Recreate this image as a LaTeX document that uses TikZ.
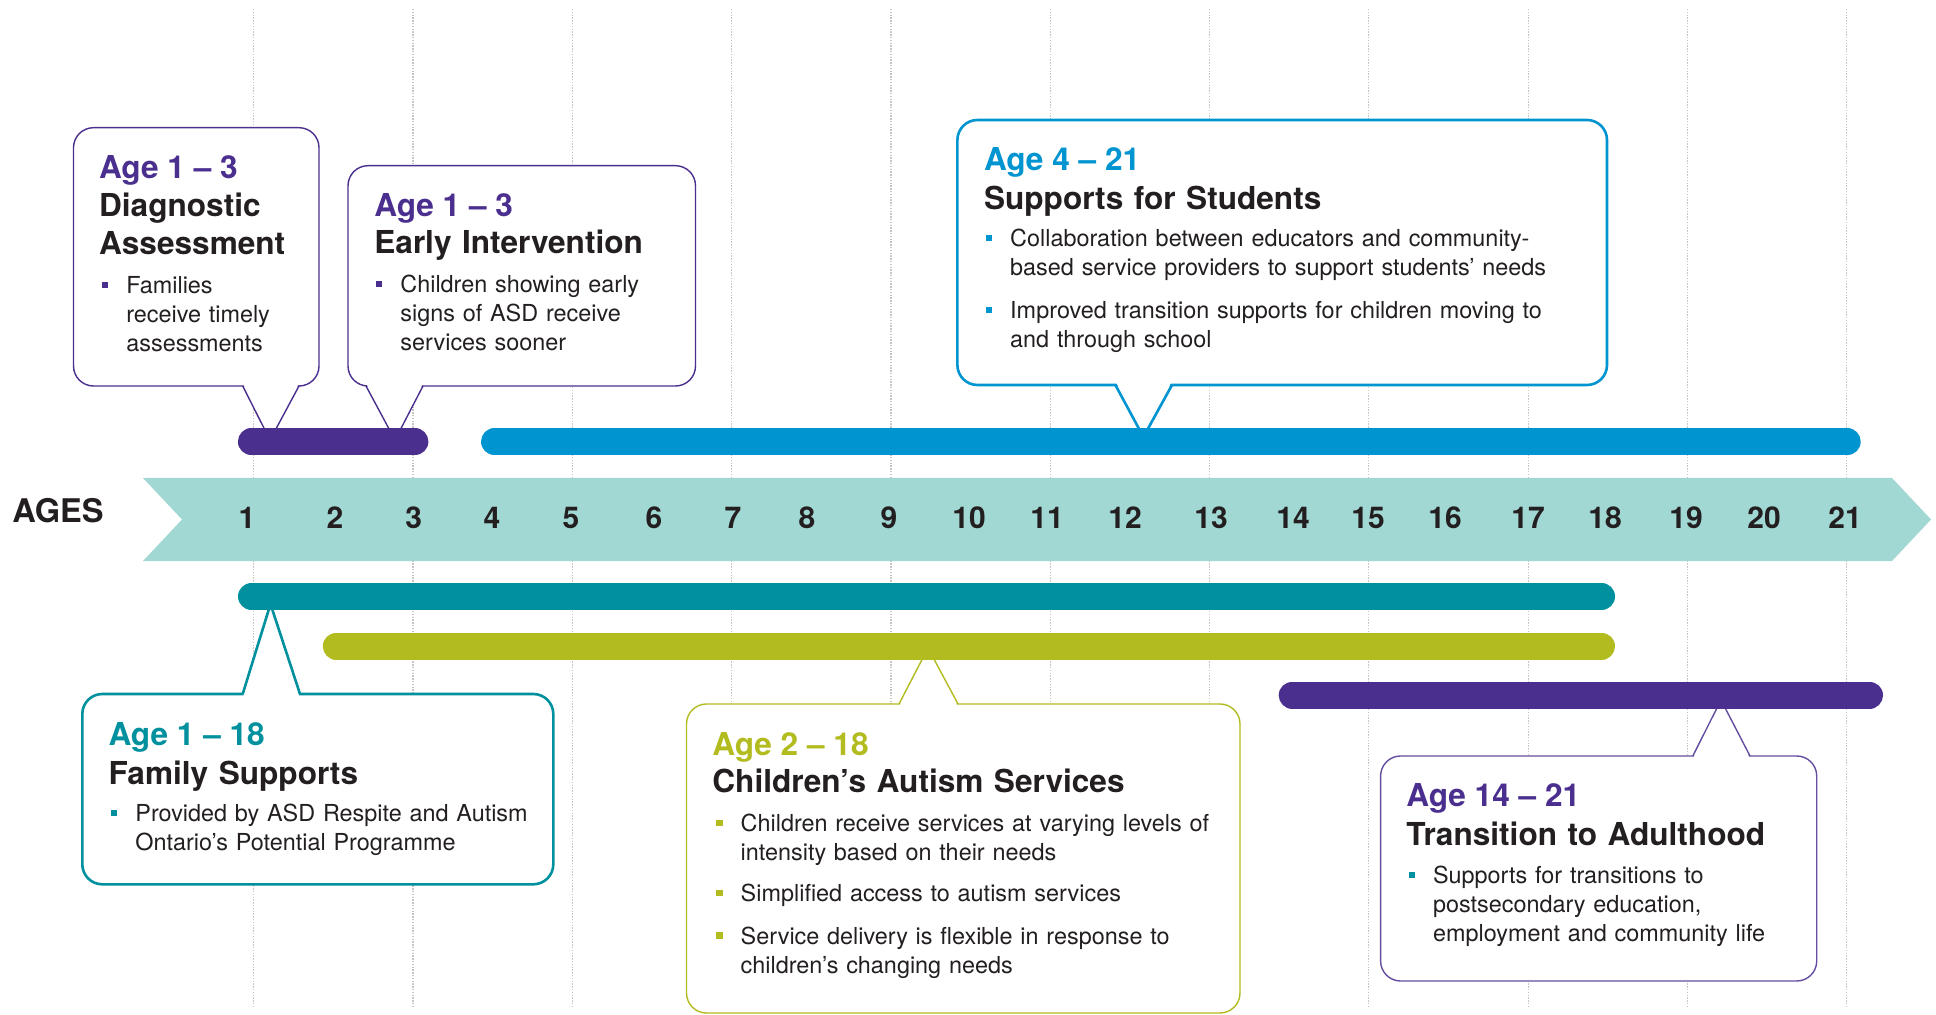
\documentclass[tikz,border=0pt]{standalone}
\usepackage{fontspec}
\setmainfont{TeX Gyre Heros}
\definecolor{cPurp}{HTML}{4A2F8F}
\definecolor{cBlue}{HTML}{0094D0}
\definecolor{cTeal}{HTML}{00909E}
\definecolor{cOlive}{HTML}{B2BC1F}
\definecolor{cRib}{HTML}{A1D8D3}
\definecolor{cInk}{HTML}{231F20}
\begin{document}
\begin{tikzpicture}[x=0.5pt,y=-0.5pt,
  gridln/.style={gray!45, line width=0.6pt, dash pattern=on 0.7pt off 0.7pt},
  spanbar/.style={draw=#1, line width=13.5pt, line cap=round},
  callbox/.style={draw=#1, fill=white, line width=0.7pt, rounded corners=10pt},
  callboxw/.style={draw=#1, fill=white, line width=1.3pt, rounded corners=10pt},
  agelbl/.style={anchor=base, inner sep=0pt, text=cInk, font=\bfseries\fontsize{15}{18}\selectfont},
  yr/.style={anchor=base west, inner sep=0pt, text=#1, font=\bfseries\fontsize{15.8}{19}\selectfont},
  hdg/.style={anchor=base west, inner sep=0pt, align=left, text width=300pt, text=cInk, font=\bfseries\fontsize{15.8}{18.8}\selectfont},
  txt/.style={anchor=base west, inner sep=0pt, align=left, text width=300pt, text=cInk, font=\fontsize{11.7}{14.5}\selectfont},
  sqbul/.style={fill=#1, inner sep=0pt, minimum size=3.2pt}]
\fill[white] (0,0) rectangle (1936,1015);
\useasboundingbox (0,0) rectangle (1936,1015);
\foreach \gx in {253.7,413,572.3,731.6,890.9,1050.2,1209.5,1368.8,1528.1,1687.4,1846.7}
  \draw[gridln] (\gx,9) -- (\gx,1007);
\fill[cRib] (143,478) -- (1892,478) -- (1931,519.5) -- (1892,561) -- (143,561) -- (182,519.5) -- cycle;
\node[anchor=base west, inner sep=0pt, text=cInk, font=\bfseries\fontsize{16.3}{19}\selectfont] (ages) at (12,522.7) {AGES};
\foreach \n/\ax in {1/247,2/335,3/413.6,4/492,5/571,6/654,7/733,8/807,9/889,10/969,11/1047,12/1125,13/1211,14/1293,15/1368,16/1445,17/1528,18/1605,19/1686,20/1764,21/1845}
  \node[agelbl] (age\n) at (\ax,528) {\n};

% callouts above
\draw[callbox=cPurp] (73.5,127.7) rectangle (319,386);
\fill[white] (242.7,383) -- (270,440) -- (299,383) -- cycle;
\draw[cPurp, line width=0.7pt] (242.7,386) -- (270,440) -- (299,386);
\draw[callbox=cPurp] (348,165.7) rectangle (695.5,386);
\fill[white] (366,383) -- (395,440) -- (423,383) -- cycle;
\draw[cPurp, line width=0.7pt] (366,386) -- (395,440) -- (423,386);
\draw[callboxw=cBlue] (957.4,120) rectangle (1607,385);
\fill[white] (1115.4,381) -- (1143.4,437) -- (1172,381) -- cycle;
\draw[cBlue, line width=1.3pt] (1115.4,385) -- (1143.4,437) -- (1172,385);

% callouts below
\draw[callboxw=cTeal] (82.3,694) rectangle (553.3,884.3);
\fill[white] (242.7,698) -- (270.5,604) -- (300,698) -- cycle;
\draw[cTeal, line width=1.3pt] (242.7,694) -- (270.5,604) -- (300,694);
\draw[callbox=cOlive] (686.5,704) rectangle (1240,1013);
\fill[white] (899,707) -- (928,648) -- (958,707) -- cycle;
\draw[cOlive, line width=0.7pt] (899,704) -- (928,648) -- (958,704);
\draw[callbox=cPurp!85] (1380.6,756) rectangle (1816.7,981);
\fill[white] (1692.8,759) -- (1721,700) -- (1750,759) -- cycle;
\draw[cPurp!85, line width=0.7pt] (1692.8,756) -- (1721,700) -- (1750,756);

% age bars
\draw[spanbar=cPurp] (251.4,441.7) -- (414.9,441.7);
\draw[spanbar=cBlue] (494.5,441.7) -- (1847.2,441.7);
\draw[spanbar=cTeal] (251.5,596.5) -- (1601.5,596.5);
\draw[spanbar=cOlive] (336.3,646) -- (1601.5,646);
\draw[spanbar=cPurp] (1292.2,695) -- (1869.5,695);

% texts
\node[yr=cPurp] (t1) at (98.7,178.3) {Age 1 – 3};
\node[hdg] (h1) at (98.7,216.7) {Diagnostic\\Assessment};
\node[sqbul=cPurp] (b1) at (105,284.8) {};
\node[txt] (x1) at (126,293.3) {Families\\receive timely\\assessments};

\node[yr=cPurp] (t2) at (374,216.7) {Age 1 – 3};
\node[hdg] (h2) at (374,254) {Early Intervention};
\node[sqbul=cPurp] (b2) at (379,284.2) {};
\node[txt] (x2) at (400,292.7) {Children showing early\\signs of ASD receive\\services sooner};

\node[yr=cBlue] (t3) at (983.6,170.7) {Age 4 – 21};
\node[hdg] (h3) at (983.6,209.3) {Supports for Students};
\node[sqbul=cBlue] (b3a) at (989,238.2) {};
\node[txt] (x3a) at (1009.8,246.7) {Collaboration between educators and community-\\based service providers to support students’ needs};
\node[sqbul=cBlue] (b3b) at (989,309.8) {};
\node[txt] (x3b) at (1009.8,318.3) {Improved transition supports for children moving to\\and through school};

\node[yr=cTeal] (t4) at (108.2,745) {Age 1 – 18};
\node[hdg] (h4) at (108.2,784) {Family Supports};
\node[sqbul=cTeal] (b4) at (114,813.2) {};
\node[txt] (x4) at (135,821.7) {Provided by ASD Respite and Autism\\Ontario’s Potential Programme};

\node[yr=cOlive] (t5) at (712,755) {Age 2 – 18};
\node[hdg] (h5) at (712,792.7) {Children’s Autism Services};
\node[sqbul=cOlive] (b5a) at (719.3,823.2) {};
\node[txt] (x5a) at (740.3,831.7) {Children receive services at varying levels of\\intensity based on their needs};
\node[sqbul=cOlive] (b5b) at (719.3,893.2) {};
\node[txt] (x5b) at (740.3,901.7) {Simplified access to autism services};
\node[sqbul=cOlive] (b5c) at (719.3,935.5) {};
\node[txt] (x5c) at (740.3,944) {Service delivery is flexible in response to\\children’s changing needs};

\node[yr=cPurp] (t6) at (1406,806.7) {Age 14 – 21};
\node[hdg] (h6) at (1406,845) {Transition to Adulthood};
\node[sqbul=cTeal] (b6) at (1412,874.8) {};
\node[txt] (x6) at (1432.6,883.3) {Supports for transitions to\\postsecondary education,\\employment and community life};
\end{tikzpicture}
\end{document}
